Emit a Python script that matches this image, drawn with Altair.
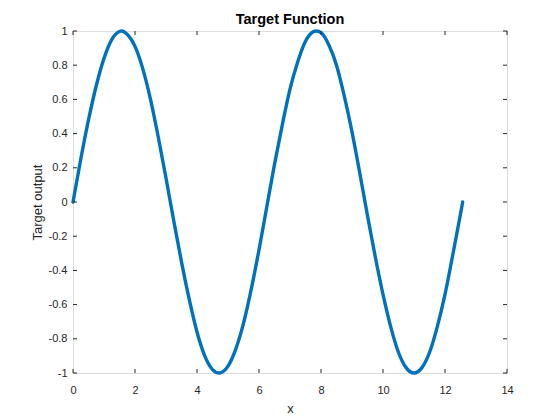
import altair as alt
import pandas as pd

# values
x_vals = [0, 0.25, 0.5, 0.75, 1.0, 1.25, 1.5, 1.57, 1.75, 2.0, 2.25, 2.5, 2.75, 3.0, 3.25, 3.5,
          3.75, 4.0, 4.25, 4.5, 4.71, 4.75, 5.0, 5.25, 5.5, 5.75, 6.0, 6.25, 6.5, 6.75, 7.0,
          7.25, 7.5, 7.75, 7.85, 8.0, 8.25, 8.5, 8.75, 9.0, 9.25, 9.5, 9.75, 10.0, 10.25,
          10.5, 10.75, 11.0, 11.25, 11.5, 11.75, 12.0, 12.25, 12.5, 12.57]
y_vals = [0.0, 0.25, 0.48, 0.68, 0.84, 0.95, 0.997, 1.0, 0.98, 0.91, 0.78, 0.60, 0.38, 0.14,
          -0.11, -0.35, -0.57, -0.76, -0.90, -0.98, -1.0, -0.999, -0.96, -0.86, -0.71, -0.51,
          -0.28, -0.03, 0.22, 0.45, 0.66, 0.82, 0.94, 0.995, 1.0, 0.99, 0.92, 0.80, 0.62,
          0.41, 0.17, -0.08, -0.32, -0.54, -0.73, -0.88, -0.97, -1.0, -0.97, -0.88, -0.73,
          -0.54, -0.31, -0.07, 0.0]
x_ticks = [0, 2, 4, 6, 8, 10, 12, 14]
y_ticks = [-1, -0.8, -0.6, -0.4, -0.2, 0, 0.2, 0.4, 0.6, 0.8, 1]

df = pd.DataFrame({"x": x_vals, "y": y_vals})
xt = pd.DataFrame({"x": x_ticks})
yt = pd.DataFrame({"y": y_ticks})

W, H = 434, 342
TXT = "#262626"
FONT = "Liberation Sans"

xscale = alt.Scale(domain=[0, 14], nice=False, zero=False)
yscale = alt.Scale(domain=[-1, 1], nice=False, zero=False)

xaxis = alt.Axis(values=x_ticks, ticks=False, domain=False, grid=False, labelPadding=11,
                 labelFlush=False, labelOverlap=False,
                 labelFont=FONT, labelFontSize=11, labelColor=TXT, title="x",
                 titleFont=FONT, titleFontSize=13, titleColor=TXT, titleFontWeight="normal",
                 titlePadding=7)
yaxis = alt.Axis(values=y_ticks, ticks=False, domain=False, grid=False, labelPadding=6,
                 labelFlush=False, labelOverlap=False,
                 labelFont=FONT, labelFontSize=11, labelColor=TXT,
                 labelExpr="datum.value == 0 ? '0' : (datum.value < 0 ? '-' : '') + format(abs(datum.value), '~g')",
                 title="Target output", titleFont=FONT, titleFontSize=13, titleColor=TXT,
                 titleFontWeight="normal", titlePadding=4)

line = alt.Chart(df).mark_line(color="#0072BD", strokeWidth=3.4, interpolate="monotone",
                               strokeJoin="round", strokeCap="round", clip=False).encode(
    x=alt.X("x:Q", scale=xscale, axis=xaxis, title="x"),
    y=alt.Y("y:Q", scale=yscale, axis=yaxis, title="Target output"),
)

TL = 4
bt = alt.Chart(xt).mark_rule(color=TXT, strokeWidth=1).encode(
    x=alt.X("x:Q", scale=xscale, axis=xaxis, title="x"), y=alt.value(H), y2=alt.value(H - TL))
tt = alt.Chart(xt).mark_rule(color=TXT, strokeWidth=1).encode(
    x=alt.X("x:Q", scale=xscale, axis=xaxis, title="x"), y=alt.value(0), y2=alt.value(TL))
lt = alt.Chart(yt).mark_rule(color=TXT, strokeWidth=1).encode(
    y=alt.Y("y:Q", scale=yscale, axis=yaxis, title="Target output"), x=alt.value(0), x2=alt.value(TL))
rt = alt.Chart(yt).mark_rule(color=TXT, strokeWidth=1).encode(
    y=alt.Y("y:Q", scale=yscale, axis=yaxis, title="Target output"), x=alt.value(W), x2=alt.value(W - TL))

chart = alt.layer(line, bt, tt, lt, rt).properties(
    width=W, height=H,
    title=alt.TitleParams("Target Function", font=FONT, fontSize=14.5, fontWeight="bold",
                          color="#000000", anchor="middle", offset=-2),
    autosize=alt.AutoSizeParams(type="none"),
    padding={"left": 65, "top": 23, "right": 45, "bottom": 46},
).configure_view(stroke=TXT, strokeWidth=1).configure(background="white")

chart.save("out.html", embed_options={"renderer": "svg", "actions": False})
